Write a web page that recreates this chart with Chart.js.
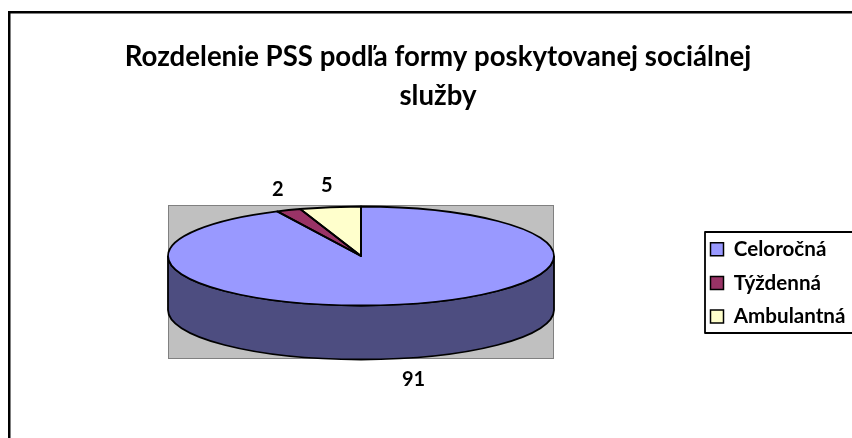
<!DOCTYPE html>
<html>
<head>
<meta charset="utf-8">
<style>
  html, body { margin: 0; padding: 0; background: #fff; }
  canvas { display: block; }
</style>
<script src="https://cdn.jsdelivr.net/npm/chart.js@4/dist/chart.umd.min.js"></script>
</head>
<body>
<canvas id="graf" width="852" height="438"></canvas>
<script>
// data
const categories = ['Celoročná', 'Týždenná', 'Ambulantná'];
const values = [91, 2, 5];
const titleLines = ['Rozdelenie PSS podľa formy poskytovanej sociálnej', 'služby'];

const colors = ['#9999FF', '#993366', '#FFFFCC'];
const sideColors = ['#4D4D80', '#4D1A33', '#808066'];

// where the flattened pie sits on the page
const pie = { cx: 361, cy: 256, rx: 193, ry: 49.5, depth: 54 };
const wall = { x: 168, y: 205, w: 386, h: 154 };
const legendBox = { left: 705, top: 232, right: 853, bottom: 333 };
const fontName = 'Lato, "Noto Sans", sans-serif';

// fake 3D: the library's arcs get squashed, side wall and outlines are drawn around them
const pie3d = {
    id: 'pie3d',
    afterLayout(chart) {
        const t = chart.titleBlock;
        t.left += 24; // title is centred on the frame, not on the canvas
        const l = chart.legend;
        l.left = legendBox.left - 7.5;
        l.right = legendBox.right;
        l.top = legendBox.top - 6;
        l.bottom = 600; // keep all items in one column
    },
    beforeDraw(chart) {
        const ctx = chart.ctx;
        ctx.save();
        ctx.fillStyle = '#000';
        ctx.fillRect(8, 11, 844, 2.5);
        ctx.fillRect(8, 11, 2.5, 427);
        ctx.fillStyle = '#C0C0C0';
        ctx.strokeStyle = '#808080';
        ctx.lineWidth = 1;
        ctx.fillRect(wall.x, wall.y, wall.w, wall.h);
        ctx.strokeRect(wall.x + 0.5, wall.y + 0.5, wall.w - 1, wall.h - 1);
        ctx.restore();
    },
    beforeDatasetsDraw(chart) {
        const ctx = chart.ctx;
        const arcs = chart.getDatasetMeta(0).data;
        ctx.save();
        ctx.lineWidth = 1.8;
        ctx.strokeStyle = '#000';
        arcs.forEach((arc, i) => {
            const a = Math.max(arc.startAngle, 0);
            const b = Math.min(arc.endAngle, Math.PI);
            if (b <= a) return;
            ctx.beginPath();
            ctx.ellipse(pie.cx, pie.cy, pie.rx, pie.ry, 0, a, b);
            ctx.ellipse(pie.cx, pie.cy + pie.depth, pie.rx, pie.ry, 0, b, a, true);
            ctx.closePath();
            ctx.fillStyle = sideColors[i];
            ctx.fill();
            ctx.stroke();
        });
        ctx.restore();
        // squash for the library's own drawing
        const r = arcs[0].outerRadius;
        ctx.save();
        ctx.translate(pie.cx, pie.cy);
        ctx.scale(pie.rx / r, pie.ry / r);
        ctx.translate(-arcs[0].x, -arcs[0].y);
    },
    afterDatasetsDraw(chart) {
        const ctx = chart.ctx;
        ctx.restore();
        const arcs = chart.getDatasetMeta(0).data;
        ctx.save();
        ctx.lineWidth = 1.8;
        ctx.strokeStyle = '#000';
        ctx.lineJoin = 'round';
        arcs.forEach(arc => {
            ctx.beginPath();
            ctx.moveTo(pie.cx, pie.cy);
            ctx.ellipse(pie.cx, pie.cy, pie.rx, pie.ry, 0, arc.startAngle, arc.endAngle);
            ctx.closePath();
            ctx.stroke();
        });
        // value labels outside the rim
        ctx.fillStyle = '#000';
        ctx.font = 'bold 20px ' + fontName;
        ctx.textAlign = 'center';
        ctx.textBaseline = 'middle';
        arcs.forEach((arc, i) => {
            const mid = (arc.startAngle + arc.endAngle) / 2;
            const s = Math.sin(mid);
            const x = pie.cx + Math.cos(mid) * (pie.rx + 34) + 2;
            const y = pie.cy + s * (pie.ry + 22) + (s > 0 ? pie.depth : 0);
            ctx.fillText(String(values[i]), x, y);
        });
        // legend frame
        ctx.lineWidth = 1.8;
        ctx.strokeRect(legendBox.left, legendBox.top, legendBox.right - legendBox.left, legendBox.bottom - legendBox.top);
        ctx.restore();
    }
};

const ctx = document.getElementById('graf').getContext('2d');

new Chart(ctx, {
    type: 'pie',
    plugins: [pie3d],
    data: {
        labels: categories,
        datasets: [{
            data: values,
            backgroundColor: colors,
            borderWidth: 0
        }]
    },
    options: {
        responsive: false,
        animation: false,
        events: [],
        plugins: {
            tooltip: { enabled: false },
            title: {
                display: true,
                text: titleLines,
                color: '#000',
                font: { family: fontName, size: 27.6, weight: 'bold', lineHeight: 1.41 },
                padding: { top: 38, bottom: 0 }
            },
            legend: {
                position: 'right',
                align: 'start',
                labels: {
                    color: '#000',
                    font: { family: fontName, size: 20.6, weight: 'bold' },
                    boxWidth: 13,
                    boxHeight: 13,
                    padding: 13,
                    generateLabels(chart) {
                        const items = Chart.overrides.pie.plugins.legend.labels.generateLabels(chart);
                        items.forEach(it => {
                            it.strokeStyle = '#000';
                            it.lineWidth = 1.5;
                        });
                        return items;
                    }
                }
            }
        }
    }
});
</script>
</body>
</html>
